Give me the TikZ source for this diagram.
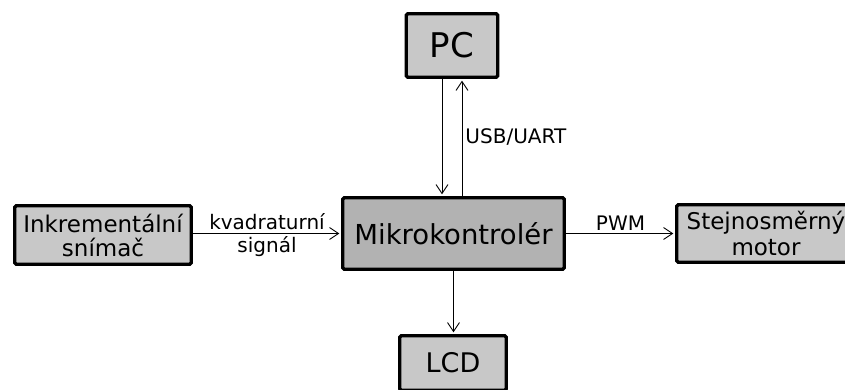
\documentclass[tikz,border=0pt]{standalone}
\usepackage{fontspec}
\setmainfont{DejaVu Sans}
\usetikzlibrary{arrows.meta}
\definecolor{boxgray}{RGB}{200,200,200}
\definecolor{mcugray}{RGB}{178,178,178}

\begin{document}
\begin{tikzpicture}[x=1pt, y=-1pt,
        block/.style={draw, line width=3.4pt, rounded corners=1.5pt, fill=boxgray, align=center, inner sep=0pt},
        link/.style={line width=0.9pt, shorten >=1.7pt, -{Straight Barb[length=9pt, width=12pt]}},
        lbl/.style={font=\fontsize{20}{24}\selectfont, inner sep=3pt}]
        \useasboundingbox (0,0) rectangle (845,390);
        \node[block, minimum width=91.5pt, minimum height=63.5pt, font=\fontsize{34}{40}\selectfont] (pc) at (452,45.5) {PC};
        \node[block, fill=mcugray, minimum width=221.5pt, minimum height=71.5pt, font=\fontsize{27.5}{33}\selectfont] (mcu) at (453.5,233.5) {Mikrokontrolér};
        \node[block, minimum width=176.5pt, minimum height=58.5pt, font=\fontsize{23}{24}\selectfont] (enc) at (103,235) {Inkrementální\\snímač};
        \node[block, minimum width=178.5pt, minimum height=57.5pt, font=\fontsize{23}{26}\selectfont] (motor) at (766,233.5) {Stejnosměrný\\motor};
        \node[block, minimum width=106.5pt, minimum height=54.5pt, font=\fontsize{27}{32}\selectfont] (lcd) at (453,363) {LCD};
        \draw[link] ([xshift=-10pt]pc.south) -- ([xshift=-10pt]pc.south |- mcu.north);
        \draw[link] ([xshift=10pt]pc.south |- mcu.north) -- node[lbl, right] {USB/UART} ([xshift=10pt]pc.south);
        \draw[link] (mcu.west -| enc.east) -- node[lbl, above] {kvadraturní} node[lbl, below] {signál} (mcu.west);
        \draw[link] (mcu.east) -- node[lbl, above] {PWM} (mcu.east -| motor.west);
        \draw[link] (mcu.south) -- (mcu.south |- lcd.north);
    \end{tikzpicture}
\end{document}
